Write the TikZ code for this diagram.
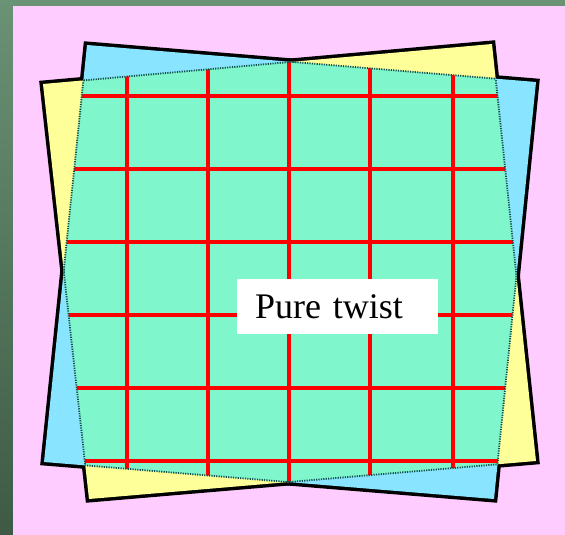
\documentclass[tikz,border=0pt]{standalone}
\usepackage{fontspec}
\setmainfont{Liberation Serif}
\usetikzlibrary{positioning}

\definecolor{bgdark}{HTML}{3E5A45}
\definecolor{bglight}{HTML}{6A9275}
\definecolor{sheetpink}{HTML}{FFCCFF}
\definecolor{sheetyellow}{HTML}{FFFF99}
\definecolor{sheetcyan}{HTML}{88E4FF}
\definecolor{sheetmint}{HTML}{80F6CC}
\definecolor{seamteal}{HTML}{10504C}

\begin{document}
\begin{tikzpicture}[x=1pt, y=-1pt,
			outline/.style={draw=black, line width=7pt, line join=miter},
			gridline/.style={draw=red, line width=3.5pt},
			seam/.style={draw=seamteal, line width=1.8pt, dash pattern=on 1.2pt off 1.2pt},
			lbl/.style={fill=white, text width=165pt, align=left, inner xsep=18pt, inner ysep=0pt, minimum height=55pt, font=\fontsize{36}{42}\selectfont}]
			\useasboundingbox (0,0) rectangle (565,535);
			% background
			\shade[top color=bglight, bottom color=bgdark] (0,0) rectangle (565,535);
			\fill[sheetpink] (13,6) rectangle (565,535);
			% corners of the two sheets
			\coordinate (y1) at (43,84);  \coordinate (y2) at (492,44);
			\coordinate (y3) at (536,461); \coordinate (y4) at (89,499);
			\coordinate (c1) at (87,45);  \coordinate (c2) at (536,82);
			\coordinate (c3) at (494,499); \coordinate (c4) at (44,462);
			% outer outline, then fills
			\draw[outline] (y1) -- (y2) -- (y3) -- (y4) -- cycle;
			\draw[outline] (c1) -- (c2) -- (c3) -- (c4) -- cycle;
			\fill[sheetyellow] (y1) -- (y2) -- (y3) -- (y4) -- cycle;
			\fill[sheetcyan] (c1) -- (c2) -- (c3) -- (c4) -- cycle;
			% overlap and grid
			\begin{scope}
				\clip (y1) -- (y2) -- (y3) -- (y4) -- cycle;
				\clip (c1) -- (c2) -- (c3) -- (c4) -- cycle;
				\fill[sheetmint] (0,0) rectangle (565,535);
				\foreach \gy in {96,169,242,315,388,461}
					\draw[gridline] (30,\gy) -- (540,\gy);
				\foreach \gx in {127,208,289,370,453}
					\draw[gridline] (\gx,30) -- (\gx,510);
			\end{scope}
			% inner seams
			\begin{scope}
				\clip (c1) -- (c2) -- (c3) -- (c4) -- cycle;
				\draw[seam] (y1) -- (y2) -- (y3) -- (y4) -- cycle;
			\end{scope}
			\begin{scope}
				\clip (y1) -- (y2) -- (y3) -- (y4) -- cycle;
				\draw[seam] (c1) -- (c2) -- (c3) -- (c4) -- cycle;
			\end{scope}
			\node[lbl] (twist) at (337.5,306.5) {Pure twist};
		\end{tikzpicture}
\end{document}
